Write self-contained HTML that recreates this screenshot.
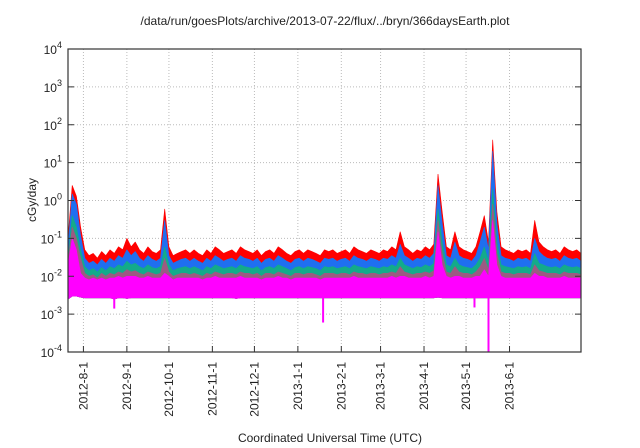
<!DOCTYPE html>
<html><head><meta charset="utf-8"><style>
body{margin:0;background:#fff;}
svg{display:block;font-family:"Liberation Sans",sans-serif;}
</style></head><body>
<svg id="chart" width="640" height="448">
<text x="325" y="25" text-anchor="middle" font-size="12" fill="#222">/data/run/goesPlots/archive/2013-07-22/flux/../bryn/366daysEarth.plot</text>
<text transform="translate(36,200) rotate(-90)" text-anchor="middle" font-size="12" fill="#222">cGy/day</text>
<text x="330" y="442" text-anchor="middle" font-size="12" fill="#222">Coordinated Universal Time (UTC)</text>
<g id="grid"></g><g id="series"></g><g id="axes"></g>
</svg>
<script>
const red=[0.1,2.5,1.3,0.2,0.05,0.035,0.04,0.03,0.045,0.035,0.05,0.04,0.06,0.05,0.1,0.06,0.08,0.05,0.04,0.06,0.045,0.04,0.05,0.6,0.06,0.035,0.04,0.045,0.05,0.04,0.05,0.04,0.035,0.05,0.04,0.06,0.05,0.04,0.045,0.05,0.04,0.06,0.05,0.045,0.04,0.05,0.035,0.045,0.05,0.04,0.06,0.05,0.04,0.035,0.045,0.05,0.04,0.05,0.045,0.04,0.035,0.05,0.045,0.05,0.04,0.045,0.05,0.04,0.06,0.05,0.045,0.04,0.05,0.045,0.04,0.05,0.045,0.06,0.05,0.15,0.06,0.05,0.04,0.05,0.045,0.06,0.05,0.07,5,0.5,0.06,0.05,0.15,0.06,0.05,0.045,0.04,0.06,0.15,0.4,0.08,40,0.5,0.06,0.05,0.045,0.04,0.05,0.045,0.05,0.04,0.3,0.08,0.06,0.05,0.045,0.05,0.04,0.06,0.05,0.045,0.05,0.04];
const blue=[0.06,1.5,0.8,0.12,0.03,0.022,0.025,0.02,0.028,0.022,0.03,0.025,0.035,0.03,0.05,0.035,0.045,0.03,0.025,0.035,0.028,0.025,0.03,0.3,0.035,0.022,0.025,0.028,0.03,0.025,0.03,0.025,0.022,0.03,0.025,0.035,0.03,0.025,0.028,0.03,0.025,0.035,0.03,0.028,0.025,0.03,0.022,0.028,0.03,0.025,0.035,0.03,0.025,0.022,0.028,0.03,0.025,0.03,0.028,0.025,0.022,0.03,0.028,0.03,0.025,0.028,0.03,0.025,0.035,0.03,0.028,0.025,0.03,0.028,0.025,0.03,0.028,0.035,0.03,0.07,0.035,0.03,0.025,0.03,0.028,0.035,0.03,0.04,2.5,0.25,0.035,0.03,0.08,0.035,0.03,0.028,0.025,0.035,0.08,0.2,0.05,20,0.25,0.035,0.03,0.028,0.025,0.03,0.028,0.03,0.025,0.1,0.045,0.035,0.03,0.028,0.03,0.025,0.035,0.03,0.028,0.03,0.025];
const green=[0.03,0.4,0.2,0.05,0.018,0.014,0.016,0.013,0.017,0.014,0.018,0.016,0.02,0.018,0.025,0.02,0.022,0.018,0.016,0.02,0.017,0.016,0.018,0.06,0.02,0.014,0.016,0.017,0.018,0.016,0.018,0.016,0.014,0.018,0.016,0.02,0.018,0.016,0.017,0.018,0.016,0.02,0.018,0.017,0.016,0.018,0.014,0.017,0.018,0.016,0.02,0.018,0.016,0.014,0.017,0.018,0.016,0.018,0.017,0.016,0.014,0.018,0.017,0.018,0.016,0.017,0.018,0.016,0.02,0.018,0.017,0.016,0.018,0.017,0.016,0.018,0.017,0.02,0.018,0.03,0.02,0.018,0.016,0.018,0.017,0.02,0.018,0.022,0.6,0.08,0.02,0.018,0.03,0.02,0.018,0.017,0.016,0.02,0.03,0.06,0.025,2,0.08,0.02,0.018,0.017,0.016,0.018,0.017,0.018,0.016,0.04,0.022,0.02,0.018,0.017,0.018,0.016,0.02,0.018,0.017,0.018,0.016];
const brown=[0.025,0.2,0.1,0.03,0.012,0.01,0.011,0.009,0.012,0.01,0.012,0.011,0.013,0.012,0.015,0.013,0.014,0.012,0.011,0.013,0.012,0.011,0.012,0.03,0.013,0.01,0.011,0.012,0.012,0.011,0.012,0.011,0.01,0.012,0.011,0.013,0.012,0.011,0.012,0.012,0.011,0.013,0.012,0.012,0.011,0.012,0.01,0.012,0.012,0.011,0.013,0.012,0.011,0.01,0.012,0.012,0.011,0.012,0.012,0.011,0.01,0.012,0.012,0.012,0.011,0.012,0.012,0.011,0.013,0.012,0.012,0.011,0.012,0.012,0.011,0.012,0.012,0.013,0.012,0.018,0.013,0.012,0.011,0.012,0.012,0.013,0.012,0.014,0.3,0.04,0.013,0.012,0.018,0.013,0.012,0.012,0.011,0.013,0.018,0.03,0.015,0.8,0.04,0.013,0.012,0.012,0.011,0.012,0.012,0.012,0.011,0.02,0.014,0.013,0.012,0.012,0.012,0.011,0.013,0.012,0.012,0.012,0.011];
const magTop=[0.02,0.1,0.05,0.012,0.009,0.008,0.009,0.008,0.009,0.008,0.009,0.009,0.01,0.009,0.01,0.01,0.01,0.009,0.009,0.01,0.009,0.009,0.009,0.012,0.01,0.008,0.009,0.009,0.009,0.009,0.009,0.009,0.008,0.009,0.009,0.01,0.009,0.009,0.009,0.009,0.009,0.01,0.009,0.009,0.009,0.009,0.008,0.009,0.009,0.009,0.01,0.009,0.009,0.008,0.009,0.009,0.009,0.009,0.009,0.009,0.008,0.009,0.009,0.009,0.009,0.009,0.009,0.009,0.01,0.009,0.009,0.009,0.009,0.009,0.009,0.009,0.009,0.01,0.009,0.01,0.01,0.009,0.009,0.009,0.009,0.01,0.009,0.01,0.15,0.02,0.01,0.009,0.01,0.01,0.009,0.009,0.009,0.01,0.01,0.015,0.01,0.3,0.02,0.01,0.009,0.009,0.009,0.009,0.009,0.009,0.009,0.012,0.01,0.01,0.009,0.009,0.009,0.009,0.01,0.009,0.009,0.009,0.009];
const magLow=[0.0025,0.003,0.003,0.0028,0.0027,0.0027,0.0027,0.0027,0.0027,0.0027,0.0027,0.0025,0.0027,0.0027,0.0026,0.0027,0.0027,0.0027,0.0027,0.0027,0.0027,0.0027,0.0027,0.0027,0.0027,0.0027,0.0027,0.0027,0.0027,0.0027,0.0027,0.0027,0.0027,0.0027,0.0027,0.0027,0.0027,0.0027,0.0027,0.0027,0.0026,0.0027,0.0027,0.0027,0.0027,0.0027,0.0027,0.0027,0.0027,0.0027,0.0027,0.0027,0.0027,0.0027,0.0027,0.0027,0.0027,0.0027,0.0027,0.0027,0.0027,0.0027,0.0027,0.0027,0.0027,0.0027,0.0027,0.0027,0.0027,0.0027,0.0027,0.0027,0.0027,0.0027,0.0027,0.0027,0.0027,0.0027,0.0027,0.0027,0.0027,0.0027,0.0027,0.0027,0.0027,0.0027,0.0027,0.0027,0.0028,0.0027,0.0027,0.0027,0.0027,0.0027,0.0027,0.0027,0.0027,0.0027,0.0027,0.0027,0.0027,0.0027,0.0027,0.0027,0.0027,0.0027,0.0027,0.0027,0.0027,0.0027,0.0027,0.0027,0.0027,0.0027,0.0027,0.0027,0.0027,0.0027,0.0027,0.0027,0.0027,0.0027,0.0027];
const dipDays=[33,182,290,300];
const dipVals=[0.0014,0.0006,0.0015,0.0001];
const monthLabels=["2012-8-1","2012-9-1","2012-10-1","2012-11-1","2012-12-1","2013-1-1","2013-2-1","2013-3-1","2013-4-1","2013-5-1","2013-6-1"];
const monthDays=[11,42,72,103,133,164,195,223,254,284,315];
const yExps=[-4,-3,-2,-1,0,1,2,3,4];

const L=68,R=581,T=49,B=352,NS="http://www.w3.org/2000/svg";
const sx=d=>L+(R-L)*d/366;
const sy=v=>B-(B-T)*(Math.log10(v)+4)/8;
const dayOf=(i,n)=>i*366/(n-1);
function el(tag,attrs,parent){const e=document.createElementNS(NS,tag);for(const k in attrs)e.setAttribute(k,attrs[k]);parent.appendChild(e);return e;}
const grid=document.getElementById('grid'),ser=document.getElementById('series'),ax=document.getElementById('axes');

yExps.forEach(e=>{
  const y=sy(Math.pow(10,e));
  if(e>-4&&e<4){const g=el('line',{x1:L,x2:R,y1:y,y2:y,stroke:'#bbb','stroke-dasharray':'1,2'},grid);
  
  }
  const t=el('text',{x:L-6,y:y+5,'text-anchor':'end','font-size':'12',fill:'#222'},ax);
  
  
  t.textContent='10';
  const s=el('tspan',{dy:'-6','font-size':'9'},t);s.textContent=String(e);
  el('line',{x1:L,x2:L+6,y1:y,y2:y,stroke:'#333'},ax);
  el('line',{x1:R,x2:R-6,y1:y,y2:y,stroke:'#333'},ax);
});
monthDays.forEach((d,i)=>{
  const x=sx(d);
  const g=el('line',{x1:x,x2:x,y1:T,y2:B,stroke:'#bbb','stroke-dasharray':'1,2'},grid);
  
  
  el('line',{x1:x,x2:x,y1:B,y2:B-6,stroke:'#333'},ax);
  const t=el('text',{transform:`translate(${x+4},${B+10}) rotate(-90)`,'text-anchor':'end','font-size':'12',fill:'#222'},ax);
  
  
  t.textContent=monthLabels[i];
});

function band(top,low,color,name){
  const n=top.length;let pts=[];
  for(let i=0;i<n;i++)pts.push(sx(dayOf(i,n)).toFixed(1)+','+sy(top[i]).toFixed(1));
  for(let i=n-1;i>=0;i--)pts.push(sx(dayOf(i,n)).toFixed(1)+','+sy(low[i]).toFixed(1));
  const p=el('polygon',{points:pts.join(' '),fill:color,stroke:color,'stroke-width':'0.6','stroke-linejoin':'bevel'},ser);
  
  
}
band(red,magLow,'#ff0000','series-red');
band(blue,magLow,'#1f6ff0','series-blue');
band(green,magLow,'#13ab8a','series-green');
band(brown,magLow,'#9c5a82','series-brown');
band(magTop,magLow,'#ff00ff','series-magenta');
dipDays.forEach((d,i)=>{
  const l=el('line',{x1:sx(d),x2:sx(d),y1:sy(0.003),y2:sy(dipVals[i]),stroke:'#ff00ff','stroke-width':'2'},ser);
  
  
});
const frame=el('rect',{x:L,y:T,width:R-L,height:B-T,fill:'none',stroke:'#333','stroke-width':'1.2'},ax);


</script>
</body></html>
